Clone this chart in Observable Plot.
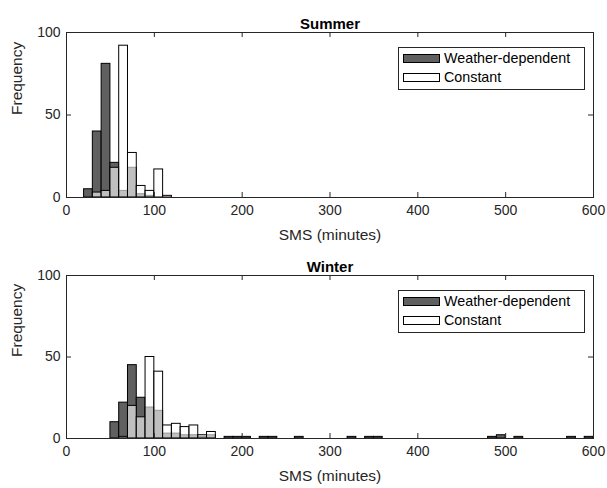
<!DOCTYPE html>
<html><head><meta charset="utf-8">
<script src="https://cdn.jsdelivr.net/npm/d3@7"></script>
<script src="https://cdn.jsdelivr.net/npm/@observablehq/plot@0.6"></script>
<style>
body{margin:0;background:#fff;font-family:"Liberation Sans",Arial,sans-serif;}
.panel{position:relative;width:607px;height:244px;}
.panel svg{display:block;}
.legend{position:absolute;box-sizing:border-box;width:187px;height:43px;border:1px solid #262626;background:#fff;font-size:14.3px;color:#000;padding-top:1px;}
.row{height:19px;line-height:19px;display:flex;align-items:center;}
.sw{display:inline-block;box-sizing:border-box;width:37px;height:9px;margin-left:4px;margin-right:4px;border:1px solid #000;}
.dark{background:#606060;}
.light{background:#fff;}
</style></head><body><div id="chart"></div><script>
const binWidth = 10;
const xTicks = [0, 100, 200, 300, 400, 500, 600];
const yTicks = [0, 50, 100];
const seriesNames = ["Weather-dependent", "Constant"];
const xLabel = "SMS (minutes)";
const yLabel = "Frequency";

const summerWeatherBins = [20, 30, 40, 50, 60, 70, 80, 90];
const summerWeather     = [5, 40, 81, 21, 4, 18, 2, 1];
const summerConstantBins = [30, 40, 50, 60, 70, 80, 90, 100, 110];
const summerConstant     = [3, 4, 18, 92, 27, 7, 4, 17, 1];

const winterWeatherBins = [50, 60, 70, 80, 90, 100, 110, 120, 130, 140, 150, 160, 180, 190, 200, 220, 230, 260, 320, 340, 350, 480, 490, 510, 570, 590];
const winterWeather     = [10, 22, 45, 25, 19, 17, 3, 3, 2, 2, 1, 2, 1, 1, 1, 1, 1, 1, 1, 1, 1, 1, 2, 1, 1, 1];
const winterConstantBins = [60, 70, 80, 90, 100, 110, 120, 130, 140, 150, 160];
const winterConstant     = [1, 20, 13, 50, 41, 8, 9, 7, 8, 2, 4];

function panel(title, wBins, wCounts, cBins, cCounts, mt, mb, legendTop) {
  const W = 607, H = 244, ml = 66, mr = 14;
  const pw = W - ml - mr, ph = H - mt - mb;
  const weather = wBins.map((b, i) => ({x1: b, x2: b + binWidth, count: wCounts[i]}));
  const constant = cBins.map((b, i) => ({x1: b, x2: b + binWidth, count: cCounts[i]}));
  const svg = Plot.plot({
    width: W, height: H, marginLeft: ml, marginRight: mr, marginTop: mt, marginBottom: mb,
    style: {fontFamily: '"Liberation Sans", Arial, sans-serif', fontSize: "14px", color: "#262626", background: "#fff"},
    x: {domain: [0, 600]},
    y: {domain: [0, 100]},
    marks: [
      Plot.rect(weather, {x1: "x1", x2: "x2", y1: 0, y2: "count", fill: "#606060", stroke: "#000", strokeWidth: 1}),
      Plot.rect(constant, {x1: "x1", x2: "x2", y1: 0, y2: "count", fill: "#fff", fillOpacity: 0.6, stroke: "#000", strokeWidth: 1}),
      Plot.frame({stroke: "#262626"}),
      Plot.tickX(xTicks, {x: d => d, insetTop: ph - 5, stroke: "#262626"}),
      Plot.tickX(xTicks, {x: d => d, insetBottom: ph - 5, stroke: "#262626"}),
      Plot.tickY(yTicks, {y: d => d, insetRight: pw - 5, stroke: "#262626"}),
      Plot.tickY(yTicks, {y: d => d, insetLeft: pw - 5, stroke: "#262626"}),
      Plot.axisX(xTicks, {tickSize: 0, tickPadding: 8, fontSize: 14, label: null}),
      Plot.axisY(yTicks, {tickSize: 0, tickPadding: 6, fontSize: 14, label: null}),
      Plot.text([xLabel], {frameAnchor: "bottom", dy: 42, fontSize: 15.5, fill: "#262626"}),
      Plot.text([yLabel], {frameAnchor: "left", dx: -49, rotate: -90, fontSize: 15.5, fill: "#262626"}),
      Plot.text([title], {frameAnchor: "top", dy: -14, fontWeight: "bold", fontSize: 15, fill: "#000"})
    ]
  });
  const div = document.createElement("div");
  div.className = "panel";
  div.appendChild(svg);
  const leg = document.createElement("div");
  leg.className = "legend";
  leg.style.left = "398px";
  leg.style.top = legendTop + "px";
  leg.innerHTML = `<div class="row"><span class="sw dark"></span>${seriesNames[0]}</div><div class="row"><span class="sw light"></span>${seriesNames[1]}</div>`;
  div.appendChild(leg);
  return div;
}

const chart = document.getElementById("chart");
chart.appendChild(panel("Summer", summerWeatherBins, summerWeather, summerConstantBins, summerConstant, 32, 47, 47));
chart.appendChild(panel("Winter", winterWeatherBins, winterWeather, winterConstantBins, winterConstant, 31, 50, 46));
</script></body></html>
